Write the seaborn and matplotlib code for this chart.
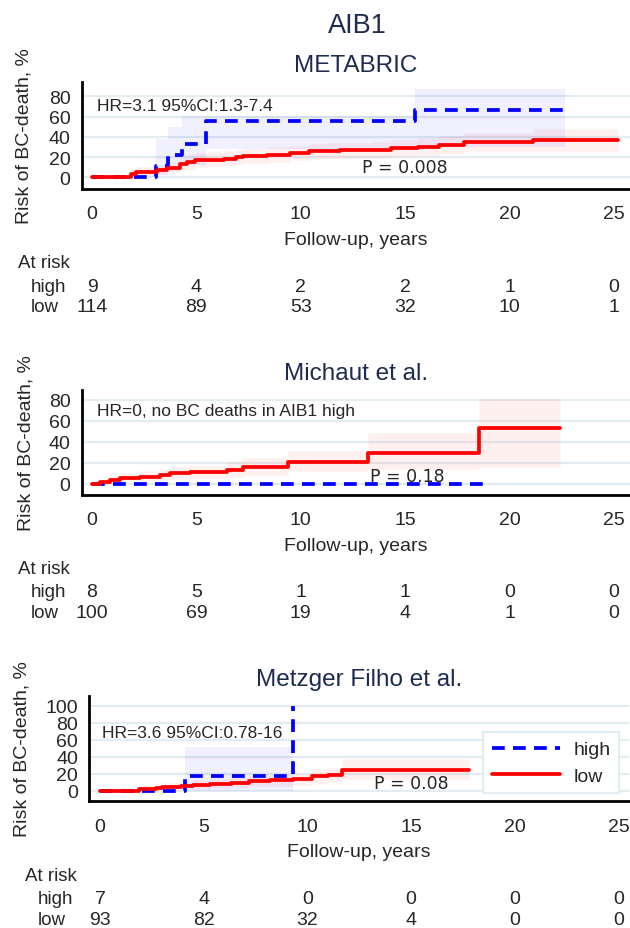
import numpy as np
import pandas as pd
import matplotlib
matplotlib.use('Agg')
import matplotlib.pyplot as plt
import seaborn as sns

sns.set_style('white')
plt.rcParams['font.family'] = ['Liberation Sans', 'DejaVu Sans']

# ---- data ----
years = [0, 5, 10, 15, 20, 25]

# METABRIC
mb_high_t = [0, 3.07, 3.65, 4.3, 5.46, 15.47, 22.65]
mb_high_v = [0, 11.1, 22.2, 33.3, 55.6, 66.7, 66.7]
mb_high_lo = [0, 2, 6, 12, 28, 30, 30]
mb_high_hi = [0, 38, 50, 61, 61, 87, 87]
mb_low_t = [0, 1.85, 2.1, 3.1, 3.6, 4.2, 4.55, 4.95, 5.5, 6.3, 6.9, 7.25, 8.4, 9.5,
            10.4, 11.3, 11.9, 13.4, 14.3, 15.6, 16.6, 17.8, 21.1, 25.2]
mb_low_v = [0, 3.5, 5, 7.5, 9.5, 13, 15, 17, 17.5, 18.5, 20, 20.7, 22.3, 24,
            25.5, 26.3, 26.5, 27, 28.7, 30.2, 31.9, 34.6, 37.1, 37.1]
mb_low_lo = [0, 0.5, 1, 3, 4.5, 7, 8.5, 10, 11, 12, 13.5, 14, 15.5, 17,
             18, 19, 19, 19.5, 21, 22, 23, 25.5, 26, 26]
mb_low_hi = [0, 8, 10, 12.5, 15, 19, 21.5, 24, 24.5, 25.5, 27, 27.5, 29.5, 31,
             33, 34, 34, 35, 36.5, 38.5, 40.5, 44, 47.7, 47.7]
mb_risk_high = [9, 4, 2, 2, 1, 0]
mb_risk_low = [114, 89, 53, 32, 10, 1]

# Michaut et al.
mi_high_t = [0, 18.8]
mi_high_v = [0, 0]
mi_low_t = [0, 0.4, 0.86, 1.34, 2.3, 3.26, 3.74, 4.7, 6.45, 7.25, 9.4, 13.24, 18.55, 22.4]
mi_low_v = [0, 1.5, 4, 5.5, 7, 8.5, 10, 11, 13.5, 16.5, 20.5, 29.5, 53.5, 53.5]
mi_low_lo = [0, 0, 0.5, 1.5, 2.5, 3.5, 4.5, 5.5, 7, 9, 12, 14, 16, 16]
mi_low_hi = [0, 5, 8, 10, 12, 14, 16, 17, 21, 25, 31, 49, 81, 81]
mi_risk_high = [8, 5, 1, 1, 0, 0]
mi_risk_low = [100, 69, 19, 4, 1, 0]

# Metzger Filho et al.
mf_high_t = [0, 4.1, 9.32]
mf_high_v = [0, 17.6, 100]
mf_high_lo = [0, 0, 0]
mf_high_hi = [0, 51, 51]
mf_low_t = [0, 1.9, 2.7, 3.0, 3.9, 4.5, 5.3, 6.3, 7.2, 8.2, 9.3, 10.2, 11.0, 11.65, 17.8]
mf_low_v = [0, 2, 3.5, 4.5, 5.5, 7, 8, 9.5, 11, 12, 13.5, 17.5, 19, 24.5, 24.5]
mf_low_lo = [0, 0, 0.5, 1, 1.5, 2.5, 3, 4, 5, 6, 7, 9, 10, 14, 14]
mf_low_hi = [0, 6, 8, 9, 10.5, 12, 13.5, 15, 17, 18, 20, 25, 27, 37.5, 37.5]
mf_risk_high = [7, 4, 0, 0, 0, 0]
mf_risk_low = [93, 82, 32, 4, 0, 0]

NAVY = '#1c2b4f'
GRID = '#e3ecf0'
BLUE = '#0000ff'
RED = '#ff0000'
W, H = 630, 929
PX = 72 / 100  # px -> pt at dpi 100


def km_panel(ax, title, high, low, high_band, low_band, yticks, ylim, xlim,
             hr_text, hr_pos, p_text, p_pos, risk_high, risk_low, ylab_x):
    for y in yticks:
        ax.axhline(y, color=GRID, lw=1.6, zorder=0)

    if high_band is not None:
        ax.fill_between(high[0], high_band[0], high_band[1], step='post',
                        facecolor='#0000ff', alpha=0.06, edgecolor='none', zorder=1)
    ax.fill_between(low[0], low_band[0], low_band[1], step='post',
                    facecolor='#ff0000', alpha=0.06, edgecolor='#ffb3bd', lw=0.5, zorder=1)

    df_h = pd.DataFrame({'t': high[0], 'risk': high[1]})
    df_l = pd.DataFrame({'t': low[0], 'risk': low[1]})
    sns.lineplot(data=df_h, x='t', y='risk', ax=ax, color=BLUE, lw=2.7,
                 linestyle=(0, (3.4, 2.2)), drawstyle='steps-post',
                 estimator=None, legend=False, label='high', zorder=3)
    sns.lineplot(data=df_l, x='t', y='risk', ax=ax, color=RED, lw=2.7,
                 drawstyle='steps-post', estimator=None, legend=False,
                 label='low', zorder=4)

    ax.set_xlim(*xlim)
    ax.set_ylim(*ylim)
    ax.set_xticks(years)
    ax.set_yticks(yticks)
    sns.despine(ax=ax)
    for s in ['left', 'bottom']:
        ax.spines[s].set_linewidth(2)
        ax.spines[s].set_color('black')
    ax.tick_params(axis='x', length=5.8, width=1.4, pad=6, labelsize=14, color='black')
    ax.tick_params(axis='y', length=5, width=1.4, pad=3, labelsize=14, color='black')

    h_px = ax.get_position().height * H
    w_px = ax.get_position().width * W
    ax.set_xlabel('Follow-up, years', fontsize=14)
    ax.xaxis.set_label_coords(0.5, -42 / h_px)
    ax.set_ylabel('Risk of BC-death, %', fontsize=14)
    ax.yaxis.set_label_coords(ylab_x / w_px, 0.5)
    ax.set_title(title, fontsize=17.5, color=NAVY, pad=8)

    ax.text(hr_pos[0], hr_pos[1], hr_text, fontsize=12.5, ha='left', va='center')
    ax.text(p_pos[0], p_pos[1], p_text, fontsize=12.5, ha='center', va='center',
            family=['DejaVu Sans'])

    # numbers at risk table
    ax.annotate('At risk', xy=(0, 0), xycoords='axes fraction',
                xytext=(-64 * PX, -74 * PX), textcoords='offset points',
                ha='left', va='center', fontsize=13.5)
    for lab, vals, dy in [('high', risk_high, 97), ('low', risk_low, 118)]:
        ax.annotate(lab, xy=(0, 0), xycoords='axes fraction',
                    xytext=(-51 * PX, -dy * PX), textcoords='offset points',
                    ha='left', va='center', fontsize=13.5)
        for t, n in zip(years, vals):
            ax.annotate(str(n), xy=(t, 0), xycoords=ax.get_xaxis_transform(),
                        xytext=(0, -dy * PX), textcoords='offset points',
                        ha='center', va='center', fontsize=14)


fig = plt.figure(figsize=(W / 100, H / 100), dpi=100)
fig.text(357 / W, 1 - 33 / H, 'AIB1', ha='center', va='baseline', fontsize=19.5, color=NAVY)

ax1 = fig.add_axes([81.6 / W, (H - 190) / H, 548 / W, 107 / H])
km_panel(ax1, 'METABRIC', (mb_high_t, mb_high_v), (mb_low_t, mb_low_v),
         (mb_high_lo, mb_high_hi), (mb_low_lo, mb_low_hi),
         [0, 20, 40, 60, 80], (-11.6, 94.1), (-0.5, 25.75),
         'HR=3.1 95%CI:1.3-7.4', (0.25, 71), 'P = 0.008', (15.0, 10),
         mb_risk_high, mb_risk_low, 33 - 81.6)

ax2 = fig.add_axes([81.6 / W, (H - 495.7) / H, 548 / W, 104.7 / H])
km_panel(ax2, 'Michaut et al.', (mi_high_t, mi_high_v), (mi_low_t, mi_low_v),
         None, (mi_low_lo, mi_low_hi),
         [0, 20, 40, 60, 80], (-10.2, 89.5), (-0.5, 25.75),
         'HR=0, no BC deaths in AIB1 high', (0.25, 70), 'P = 0.18', (15.1, 8),
         mi_risk_high, mi_risk_low, 35 - 81.6)

ax3 = fig.add_axes([89 / W, (H - 802.3) / H, 540 / W, 105.6 / H])
km_panel(ax3, 'Metzger Filho et al.', (mf_high_t, mf_high_v), (mf_low_t, mf_low_v),
         (mf_high_lo, mf_high_hi), (mf_low_lo, mf_low_hi),
         [0, 20, 40, 60, 80, 100], (-12.5, 111.8), (-0.53, 25.5),
         'HR=3.6 95%CI:0.78-16', (0.08, 68.7), 'P = 0.08', (15.0, 8.6),
         mf_risk_high, mf_risk_low, 31 - 89)

leg = ax3.legend(loc='upper right', bbox_to_anchor=(0.982, 0.656), borderaxespad=0,
                 fontsize=14, handlelength=3.5, handletextpad=0.7, labelspacing=0.45,
                 borderpad=0.45, fancybox=False, framealpha=1, edgecolor=GRID)
leg.get_frame().set_linewidth(1.5)

fig.savefig('out.png', dpi=100)
